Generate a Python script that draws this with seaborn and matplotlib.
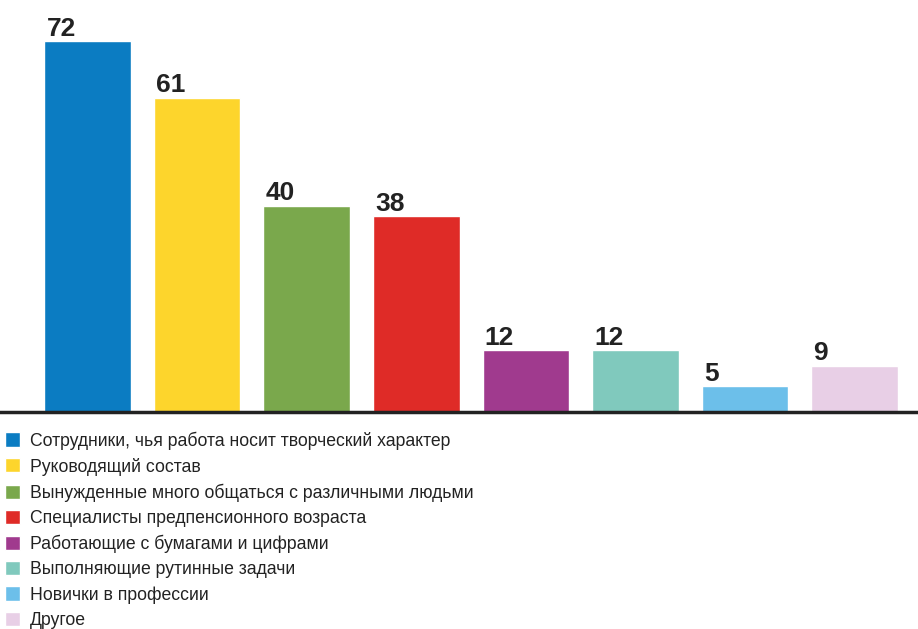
import matplotlib
matplotlib.use("Agg")
import matplotlib.pyplot as plt
import seaborn as sns
import pandas as pd

# данные
categories = [
    "Сотрудники, чья работа носит творческий характер",
    "Руководящий состав",
    "Вынужденные много общаться с различными людьми",
    "Специалисты предпенсионного возраста",
    "Работающие с бумагами и цифрами",
    "Выполняющие рутинные задачи",
    "Новички в профессии",
    "Другое",
]
values = [72, 61, 40, 38, 12, 12, 5, 9]
colors = ["#0b7cc2", "#fdd52c", "#7aa84c", "#df2b27",
          "#a03a8e", "#80c9bd", "#6cbfea", "#e8cfe6"]

df = pd.DataFrame({"cat": categories, "val": values})

sns.set_theme(style="white")
plt.rcParams["font.family"] = ["Liberation Sans", "DejaVu Sans"]

fig = plt.figure(figsize=(9.18, 6.29), dpi=100)
ax = fig.add_axes([0, 217 / 629, 1, 412 / 629])

sns.barplot(data=df, x="cat", y="val", hue="cat", palette=colors,
            width=0.79, saturation=1, legend=True, ax=ax)

ax.set_xlim(-0.80, 7.58)
ax.set_ylim(0, 80)
ax.set_xticks([])
ax.set_yticks([])
ax.set_xlabel("")
ax.set_ylabel("")
for s in ["top", "left", "right"]:
    ax.spines[s].set_visible(False)
ax.spines["bottom"].set_linewidth(2.5)
ax.spines["bottom"].set_color("#222222")

# подписи значений над столбцами (выровнены по левому краю)
for cont in ax.containers:
    for bar in cont:
        h = bar.get_height()
        ax.annotate(f"{int(h)}", (bar.get_x(), h), xytext=(1.5, 0.5),
                    textcoords="offset points", ha="left", va="bottom",
                    fontsize=19, fontweight="bold", color="#222222")

handles, labels = ax.get_legend_handles_labels()
ax.get_legend().remove()
fig.legend(handles, labels, loc="upper left", bbox_to_anchor=(0.0, 1 - 426 / 629),
           frameon=False, fontsize=12.7, handlelength=0.85, handleheight=0.85,
           handletextpad=0.55, labelspacing=0.45, borderaxespad=0,
           borderpad=0.3, labelcolor="#222222")

fig.savefig("out.png", dpi=100, facecolor="white")
